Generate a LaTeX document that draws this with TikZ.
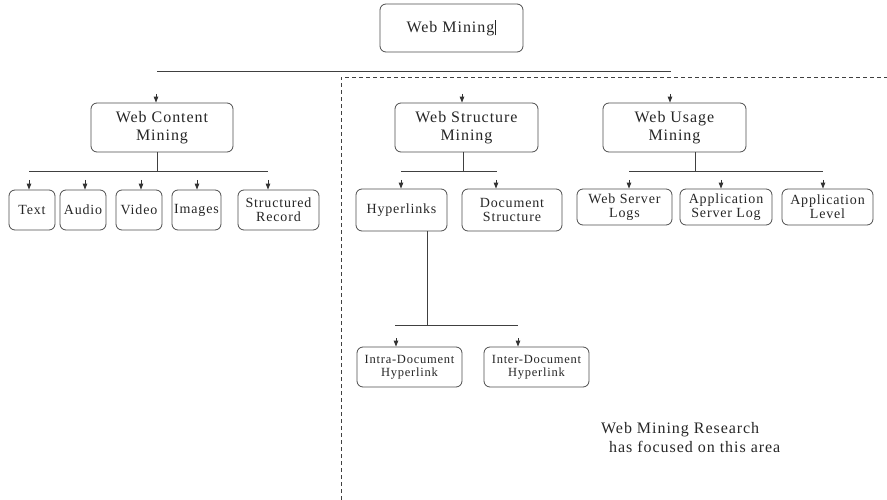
\documentclass[tikz,border=0pt]{standalone}
\usepackage{fontspec}
\setmainfont[LetterSpace=6]{Liberation Serif}
\usetikzlibrary{arrows.meta}
\begin{document}
\begin{tikzpicture}[x=1pt,y=-1pt,
  box/.style={draw=black!70, line width=0.8pt, rounded corners=6pt, align=center, inner sep=0pt, text=black!85},
  big/.style={font=\fontsize{16}{18}\selectfont},
  mid/.style={font=\fontsize{14}{14}\selectfont},
  sml/.style={font=\fontsize{12.5}{13}\selectfont},
  conn/.style={draw=black!75, line width=0.8pt},
  tipline/.style={draw=black!80, line width=1pt, -{Triangle[width=4.5pt,length=6pt]}},
  dashline/.style={draw=black!75, line width=0.8pt, dash pattern=on 4pt off 3pt}
]
\useasboundingbox (0,0) rectangle (887,500);

% top node
\node[box,big,minimum width=143pt,minimum height=48pt] (wm) at (451.5,28) {Web Mining\hspace{1pt}\rule[-3pt]{1pt}{15pt}};

% top lines
\coordinate (tl) at (157,71);
\coordinate (tr) at (671,71);
\draw[conn] (tl) -- (tr);
\coordinate (db) at (341,500);
\coordinate (dc) at (341,77);
\coordinate (dr) at (887,77);
\draw[dashline] (db) -- (dc) -- (dr);

% level 2
\node[box,big,minimum width=142pt,minimum height=49pt] (wcm) at (162,127.5) {Web Content\\Mining};
\node[box,big,minimum width=143pt,minimum height=49pt] (wsm) at (466.5,127.5) {Web Structure\\Mining};
\node[box,big,minimum width=143pt,minimum height=49pt] (wum) at (674.5,127.5) {Web Usage\\Mining};

\coordinate (a1) at (156,94);
\coordinate (a2) at (462,94);
\coordinate (a3) at (670,94);
\draw[tipline] (a1) -- (a1 |- wcm.north);
\draw[tipline] (a2) -- (a2 |- wsm.north);
\draw[tipline] (a3) -- (a3 |- wum.north);

% level 3 content
\node[box,mid,minimum width=46pt,minimum height=40pt] (text) at (32,210) {Text};
\node[box,mid,minimum width=46pt,minimum height=40pt] (audio) at (83,210) {Audio};
\node[box,mid,minimum width=46pt,minimum height=40pt] (video) at (139,210) {Video};
\node[box,mid,minimum width=49pt,minimum height=40pt] (images) at (196.5,210) {Images};
\node[box,mid,minimum width=81pt,minimum height=40pt] (sr) at (278.5,210) {Structured\\Record};

\coordinate (cv) at (157,171);
\coordinate (cl) at (29,171);
\coordinate (cr) at (268,171);
\draw[conn] (cv |- wcm.south) -- (cv);
\draw[conn] (cl) -- (cr);
\foreach \n/\x in {text/29, audio/85, video/141, images/197, sr/268}{
  \coordinate (t\n) at (\x,180);
  \draw[tipline] (t\n) -- (t\n |- \n.north);
}

% level 3 structure
\node[box,mid,minimum width=91pt,minimum height=42pt] (hyp) at (401.5,210) {Hyperlinks};
\node[box,mid,minimum width=100pt,minimum height=42pt] (doc) at (512,210) {Document\\Structure};
\coordinate (sv) at (463,171);
\coordinate (sl) at (401,171);
\coordinate (sr2) at (497,171);
\draw[conn] (sv |- wsm.south) -- (sv);
\draw[conn] (sl) -- (sr2);
\foreach \n/\x in {hyp/401, doc/496}{
  \coordinate (t\n) at (\x,180);
  \draw[tipline] (t\n) -- (t\n |- \n.north);
}

% level 3 usage
\node[box,mid,minimum width=95pt,minimum height=36pt] (wsl) at (624.5,207) {Web Server\\Logs};
\node[box,mid,minimum width=92pt,minimum height=36pt] (asl) at (726,207) {Application\\Server Log};
\node[box,mid,minimum width=91pt,minimum height=36pt] (al) at (827.5,207) {Application\\Level};
\coordinate (uv) at (695,171);
\coordinate (ul) at (629,171);
\coordinate (ur) at (823,171);
\draw[conn] (uv |- wum.south) -- (uv);
\draw[conn] (ul) -- (ur);
\foreach \n/\x in {wsl/629, asl/721, al/823}{
  \coordinate (t\n) at (\x,180);
  \draw[tipline] (t\n) -- (t\n |- \n.north);
}

% level 4
\node[box,sml,minimum width=105pt,minimum height=40pt] (intra) at (409.5,367) {Intra-Document\\Hyperlink};
\node[box,sml,minimum width=105pt,minimum height=40pt] (inter) at (536.5,367) {Inter-Document\\Hyperlink};
\coordinate (hv) at (427,325);
\coordinate (hl) at (395,325);
\coordinate (hr) at (518,325);
\draw[conn] (hv |- hyp.south) -- (hv);
\draw[conn] (hl) -- (hr);
\foreach \n/\x in {intra/396, inter/518}{
  \coordinate (t\n) at (\x,338);
  \draw[tipline] (t\n) -- (t\n |- \n.north);
}

% note
\node[big,anchor=base west,inner sep=0pt,text=black!85] (res1) at (601,433) {Web Mining Research};
\node[big,anchor=base west,inner sep=0pt,text=black!85] (res2) at (609,452) {has focused on this area};
\end{tikzpicture}
\end{document}
